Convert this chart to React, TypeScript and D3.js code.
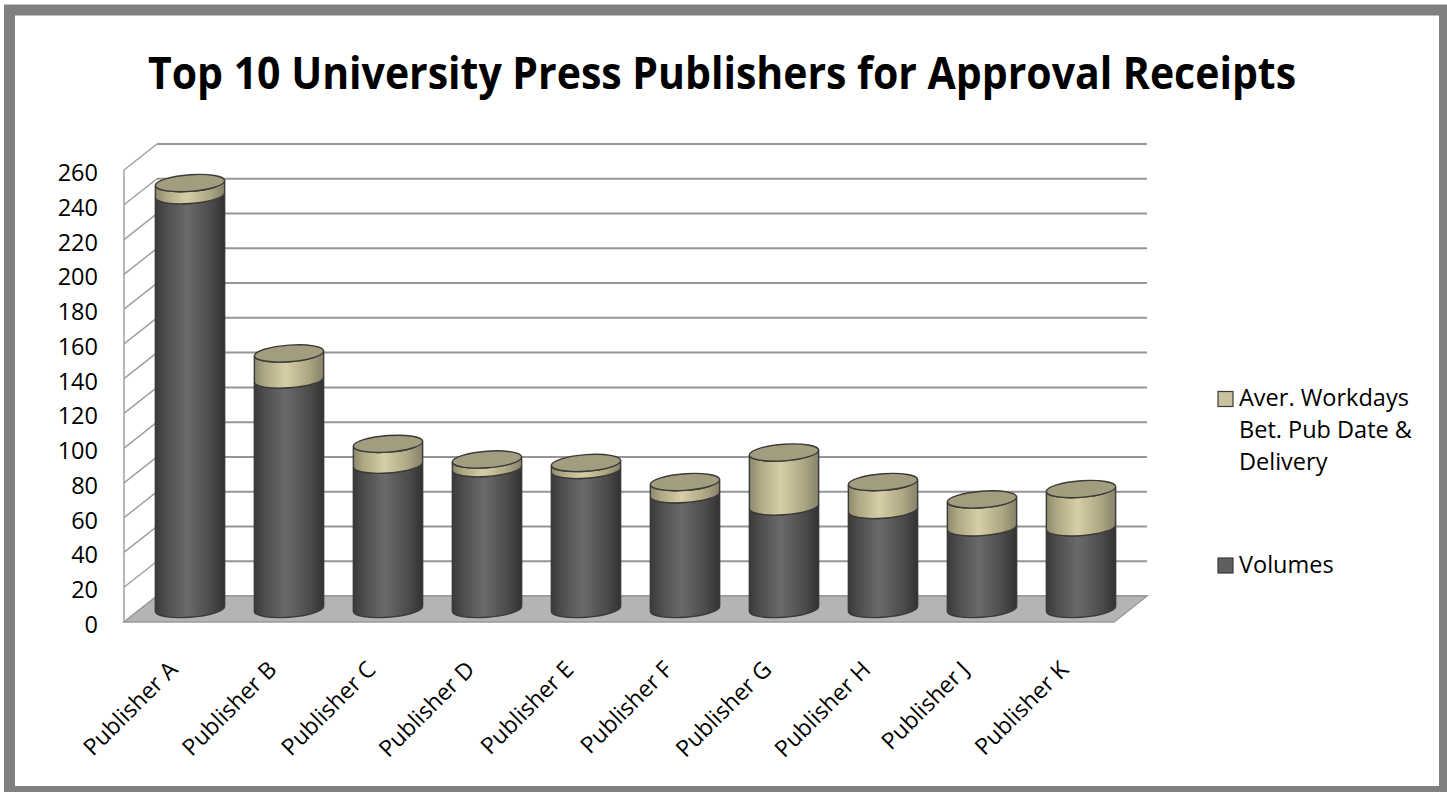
import React from "react";
import * as d3 from "d3";

const categories = ["Publisher A", "Publisher B", "Publisher C", "Publisher D", "Publisher E", "Publisher F", "Publisher G", "Publisher H", "Publisher J", "Publisher K"];
const volumes = [238, 132, 83, 81, 80, 66, 59, 57, 47, 47];
const workdays = [7, 15, 12, 5, 4, 7, 31, 16, 16, 22];
const yTicks = [0, 20, 40, 60, 80, 100, 120, 140, 160, 180, 200, 220, 240, 260];
const seriesNames = ["Aver. Workdays", "Bet. Pub Date &", "Delivery"];
const volumesName = "Volumes";
const title = "Top 10 University Press Publishers for Approval Receipts";

const W = 1447, H = 792;
const DX = 33, DY = -26;
const frontLeft = 124, frontRight = 1114, front0 = 622, frontTop = 170;

export default function App() {
  const yFront = d3.scaleLinear().domain([0, 260]).range([front0, frontTop]);
  const yBack = (v: number) => yFront(v) + DY;
  const yMid = (v: number) => yFront(v) + DY / 2;
  const xFront = d3.scaleBand().domain(categories).range([frontLeft, frontRight]).padding(0);
  const bw = xFront.bandwidth();
  const rx = bw * 0.35;
  const ry = 8.3;
  const font = "'Open Sans', 'Noto Sans', sans-serif";

  const body = (yb: number, yt: number) =>
    `M${-rx},${yt} L${-rx},${yb} A${rx},${ry} 0 0 0 ${rx},${yb} L${rx},${yt} A${rx},${ry} 0 0 1 ${-rx},${yt} Z`;

  const floor = [
    [frontLeft, front0], [frontRight, front0], [frontRight + DX, front0 + DY], [frontLeft + DX, front0 + DY],
  ];

  return (
    <svg width={W} height={H} style={{ position: "absolute", left: 0, top: 0, display: "block" }}>
      <defs>
        <linearGradient id="gDark" x1="0" x2="1" y1="0" y2="0">
          <stop offset="0" stopColor="#3a3a3a" />
          <stop offset="0.15" stopColor="#4d4d4d" />
          <stop offset="0.45" stopColor="#6a6a6a" />
          <stop offset="0.8" stopColor="#4b4b4b" />
          <stop offset="1" stopColor="#323232" />
        </linearGradient>
        <linearGradient id="gBeige" x1="0" x2="1" y1="0" y2="0">
          <stop offset="0" stopColor="#8c886c" />
          <stop offset="0.15" stopColor="#aea883" />
          <stop offset="0.45" stopColor="#d6cea6" />
          <stop offset="0.8" stopColor="#aba581" />
          <stop offset="1" stopColor="#85816a" />
        </linearGradient>
      </defs>
      <rect x={0} y={0} width={W} height={H} fill="#ffffff" />
      <rect x={9.5} y={10} width={1435} height={781.5} fill="#ffffff" stroke="#808080" strokeWidth={11} />

      <text x={722} y={89} textAnchor="middle" fontFamily={font} fontWeight="bold" fontSize={44}
        textLength={1148} lengthAdjust="spacingAndGlyphs" fill="#000">{title}</text>

      {/* walls */}
      {yTicks.map((t) => (
        <g key={"g" + t}>
          <line x1={frontLeft + DX} x2={frontRight + DX} y1={yBack(t)} y2={yBack(t)} stroke="#969696" strokeWidth={2} />
          <line x1={frontLeft} y1={yFront(t)} x2={frontLeft + DX} y2={yBack(t)} stroke="#a0a0a0" strokeWidth={1.5} />
        </g>
      ))}
      <line x1={frontLeft} x2={frontLeft} y1={yFront(260)} y2={yFront(0)} stroke="#a0a0a0" strokeWidth={1.5} />
      <polygon points={floor.map((p) => p.join(",")).join(" ")} fill="#b3b4b3" stroke="#9a9a9a" strokeWidth={1.5} />

      {/* ticks */}
      {yTicks.map((t) => (
        <text key={"t" + t} x={98} y={yFront(t) + 11} textAnchor="end" fontFamily={font} fontSize={23.5} fill="#000">{t}</text>
      ))}

      {/* bars */}
      {categories.map((c, i) => {
        const cx = (xFront(c) as number) + bw / 2 + DX / 2;
        const v = volumes[i];
        const tot = v + workdays[i];
        return (
          <g key={c} transform={`translate(${cx},0) skewY(-4)`}>
            <path d={body(yMid(0), yMid(v))} fill="url(#gDark)" stroke="#3a3a3a" strokeWidth={1.4} />
            <path d={body(yMid(v), yMid(tot))} fill="url(#gBeige)" stroke="#3a3a3a" strokeWidth={1.4} />
            <ellipse cx={0} cy={yMid(tot)} rx={rx} ry={ry} fill="#a29d7f" stroke="#3a3a3a" strokeWidth={1.4} />
          </g>
        );
      })}

      {/* x labels */}
      {categories.map((c) => {
        const x = (xFront(c) as number) + bw / 2 + 5.5;
        const y = 671;
        return (
          <text key={"x" + c} x={x} y={y} textAnchor="end" fontFamily={font} fontSize={23} fill="#000"
            transform={`rotate(-45 ${x} ${y})`}>{c}</text>
        );
      })}

      {/* legend */}
      <rect x={1218} y={391.5} width={15} height={15} fill="#c9c29c" stroke="#3a3a3a" strokeWidth={1.2} />
      {seriesNames.map((s, i) => (
        <text key={s} x={1239} y={406 + i * 32} fontFamily={font} fontSize={23.5} fill="#000">{s}</text>
      ))}
      <rect x={1218} y={558} width={15} height={15} fill="#5f5f5f" stroke="#3a3a3a" strokeWidth={1.2} />
      <text x={1239} y={573} fontFamily={font} fontSize={23.5} fill="#000">{volumesName}</text>
    </svg>
  );
}
